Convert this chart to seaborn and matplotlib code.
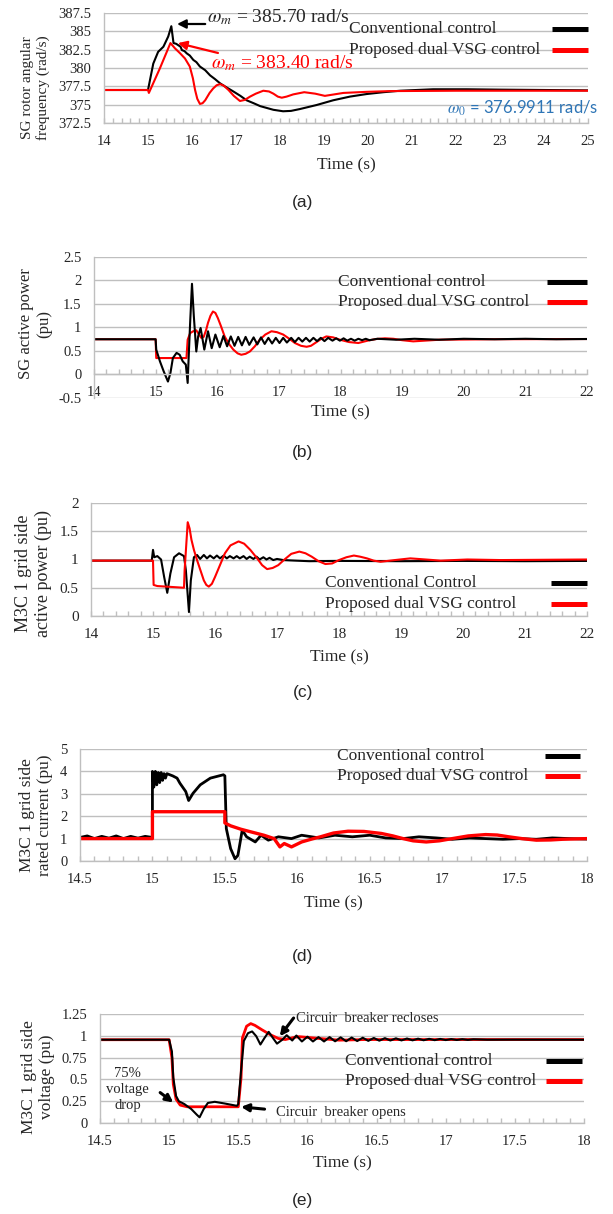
"""Respuesta dinámica ante falla: control convencional vs. control VSG dual propuesto.

Cinco paneles apilados (a)-(e) con estilo de gráfico de Excel.
"""

import matplotlib

matplotlib.use("Agg")
import matplotlib.pyplot as plt
from matplotlib.ticker import MultipleLocator, FuncFormatter
import seaborn as sns

# ---------------------------------------------------------------- datos
# (a) velocidad angular del rotor del SG (rad/s)
A_CONV_T = [14.0, 15.0, 15.12, 15.23, 15.35, 15.46, 15.53, 15.58, 15.64, 15.69,
            15.74, 15.77, 15.83, 15.88, 15.95, 16.03, 16.1, 16.18, 16.3, 16.41,
            16.52, 16.64, 16.8, 16.94, 17.1, 17.24, 17.4, 17.55, 17.7, 17.85,
            18.07, 18.25, 18.45, 18.83, 19.21, 19.59, 19.97, 20.35, 20.73, 21.1,
            21.48, 22.24, 23.0, 24.0, 25.0]
A_CONV = [377.0, 377.0, 380.6, 382.2, 382.9, 384.3, 385.7, 383.4, 383.3, 383.1,
          382.9, 382.45, 382.3, 382.0, 381.7, 381.1, 380.8, 380.2, 379.7, 379.0,
          378.5, 377.9, 377.3, 376.8, 376.2, 375.6, 375.2, 374.8, 374.55, 374.3,
          374.1, 374.15, 374.4, 374.95, 375.6, 376.1, 376.45, 376.7, 376.9, 377.0,
          377.1, 377.1, 377.05, 377.0, 376.95]
A_PROP_T = [14.0, 15.0, 15.02, 15.27, 15.51, 15.61, 15.73, 15.84, 15.95, 16.02,
            16.07, 16.12, 16.18, 16.24, 16.3, 16.4, 16.48, 16.56, 16.64, 16.72,
            16.83, 16.95, 17.09, 17.2, 17.32, 17.45, 17.62, 17.75, 17.85, 17.95,
            18.04, 18.15, 18.3, 18.55, 18.8, 19.02, 19.44, 19.97, 20.5, 22.0,
            25.0]
A_PROP = [377.0, 377.0, 376.6, 379.95, 383.4, 382.7, 382.0, 381.3, 380.2, 378.6,
          377.0, 375.8, 375.1, 375.2, 375.6, 376.6, 377.2, 377.65, 377.8, 377.6,
          377.0, 376.2, 375.5, 375.65, 376.1, 376.5, 376.9, 376.8, 376.5, 376.1,
          375.95, 376.1, 376.4, 376.7, 376.5, 376.2, 376.6, 376.75, 376.85, 376.9,
          376.9]

# (b) potencia activa del SG (pu)
B_CONV_T = [14.0, 15.0, 15.01, 15.07, 15.13, 15.2, 15.24, 15.28, 15.34, 15.39,
            15.44, 15.49, 15.52, 15.53, 15.56, 15.59, 15.62, 15.66, 15.69, 15.73,
            15.79, 15.85, 15.91, 15.97, 16.04, 16.1, 16.16, 16.22, 16.28, 16.34,
            16.4, 16.46, 16.52, 16.59, 16.65, 16.71, 16.77, 16.83, 16.89, 16.95,
            17.01, 17.07, 17.13, 17.2, 17.26, 17.32, 17.38, 17.44, 17.5, 17.56,
            17.62, 17.68, 17.74, 17.8, 17.87, 17.93, 17.99, 18.05, 18.11, 18.17,
            18.23, 18.29, 18.35, 18.41, 18.47, 18.6, 18.9, 19.2, 19.6, 20.0,
            20.5, 21.0, 21.5, 22.0]
B_CONV = [0.75, 0.75, 0.53, 0.28, 0.07, -0.15, 0.03, 0.35, 0.46, 0.42,
          0.28, 0.21, -0.18, 0.17, 1.1, 1.93, 1.24, 0.49, 0.81, 0.99,
          0.53, 0.92, 0.56, 0.85, 0.58, 0.82, 0.6, 0.81, 0.61, 0.8,
          0.62, 0.8, 0.63, 0.79, 0.64, 0.79, 0.65, 0.78, 0.66, 0.78,
          0.67, 0.78, 0.68, 0.78, 0.69, 0.78, 0.7, 0.78, 0.7, 0.78,
          0.71, 0.78, 0.71, 0.78, 0.72, 0.77, 0.72, 0.77, 0.72, 0.76,
          0.72, 0.76, 0.73, 0.76, 0.73, 0.76, 0.74, 0.76, 0.74, 0.76,
          0.75, 0.76, 0.75, 0.755]
B_PROP_T = [14.0, 15.0, 15.01, 15.28, 15.5, 15.52, 15.56, 15.61, 15.66, 15.74,
            15.78, 15.82, 15.85, 15.89, 15.93, 15.97, 16.01, 16.06, 16.12, 16.19,
            16.26, 16.33, 16.39, 16.46, 16.53, 16.61, 16.69, 16.78, 16.88, 16.97,
            17.07, 17.17, 17.26, 17.36, 17.45, 17.52, 17.6, 17.69, 17.77, 17.88,
            17.99, 18.14, 18.29, 18.44, 18.58, 18.72, 18.86, 19.0, 19.18, 19.61,
            20.5, 22.0]
B_PROP = [0.75, 0.75, 0.35, 0.35, 0.35, 0.74, 0.88, 0.92, 0.94, 0.78,
          0.8, 0.95, 1.1, 1.25, 1.34, 1.31, 1.2, 1.03, 0.81, 0.65,
          0.53, 0.45, 0.42, 0.44, 0.49, 0.6, 0.74, 0.85, 0.92, 0.9,
          0.85, 0.76, 0.67, 0.61, 0.59, 0.61, 0.68, 0.76, 0.81, 0.79,
          0.74, 0.69, 0.67, 0.72, 0.755, 0.77, 0.76, 0.73, 0.705, 0.74,
          0.75, 0.755]

# (c) potencia activa lado red del M3C 1 (pu)
C_CONV_T = [14.0, 14.98, 15.0, 15.02, 15.07, 15.13, 15.18, 15.23, 15.28, 15.34,
            15.42, 15.5, 15.53, 15.58, 15.61, 15.66, 15.71, 15.76, 15.82, 15.87,
            15.92, 15.98, 16.03, 16.08, 16.14, 16.19, 16.24, 16.3, 16.35, 16.4,
            16.46, 16.51, 16.56, 16.62, 16.67, 16.72, 16.78, 16.83, 16.88, 16.94,
            17.0, 17.1, 17.3, 17.52, 18.0, 19.0, 20.0, 21.0, 22.0]
C_CONV = [0.98, 0.98, 1.17, 1.04, 1.06, 1.0, 0.69, 0.41, 0.75, 1.04,
          1.11, 1.06, 0.81, 0.07, 0.63, 1.04, 1.08, 1.01, 1.08, 1.02,
          1.07, 1.02, 1.07, 1.02, 1.07, 1.02, 1.06, 1.02, 1.06, 1.02,
          1.06, 1.01, 1.05, 1.01, 1.05, 1.0, 1.04, 1.0, 1.03, 0.99,
          1.01, 0.99, 0.98, 0.97, 0.975, 0.97, 0.975, 0.97, 0.975]
C_PROP_T = [14.0, 15.0, 15.01, 15.07, 15.5, 15.51, 15.56, 15.59, 15.62, 15.66,
            15.71, 15.82, 15.86, 15.9, 15.95, 16.0, 16.08, 16.16, 16.25, 16.38,
            16.47, 16.57, 16.68, 16.76, 16.84, 16.93, 17.02, 17.11, 17.23, 17.36,
            17.46, 17.56, 17.67, 17.78, 17.89, 18.0, 18.12, 18.24, 18.34, 18.45,
            18.56, 18.67, 18.9, 19.15, 19.4, 19.64, 20.07, 20.61, 22.0]
C_PROP = [0.98, 0.98, 0.55, 0.53, 0.5, 0.81, 1.66, 1.55, 1.35, 1.17,
          0.99, 0.63, 0.55, 0.52, 0.57, 0.69, 0.9, 1.11, 1.25, 1.32,
          1.28, 1.17, 1.02, 0.9, 0.83, 0.85, 0.9, 0.99, 1.1, 1.14,
          1.11, 1.05, 0.97, 0.92, 0.93, 0.99, 1.04, 1.07, 1.05, 1.02,
          0.98, 0.96, 0.99, 1.02, 1.0, 0.98, 1.0, 0.99, 1.0]

# (d) corriente nominal lado red del M3C 1 (pu)
D_CONV_T = [14.5, 14.55, 14.6, 14.65, 14.7, 14.75, 14.8, 14.85, 14.9, 14.95,
            15.0, 15.0, 15.01, 15.02, 15.03, 15.04, 15.05, 15.06, 15.07, 15.08,
            15.09, 15.1, 15.14, 15.17, 15.19, 15.23, 15.25, 15.28, 15.33, 15.4,
            15.49, 15.5, 15.51, 15.54, 15.57, 15.59, 15.62, 15.65, 15.71, 15.75,
            15.8, 15.87, 15.96, 16.03, 16.15, 16.26, 16.38, 16.5, 16.61, 16.73,
            16.84, 16.96, 17.07, 17.19, 17.3, 17.42, 17.53, 17.65, 17.76, 17.88,
            18.0]
D_CONV = [1.05, 1.12, 1.0, 1.1, 1.02, 1.12, 1.0, 1.1, 1.02, 1.1,
          1.05, 4.0, 3.3, 4.0, 3.4, 3.95, 3.5, 3.95, 3.6, 3.9,
          3.7, 3.9, 3.8, 3.7, 3.47, 3.1, 2.7, 3.02, 3.4, 3.7,
          3.85, 3.8, 1.45, 0.55, 0.1, 0.25, 1.38, 1.08, 0.85, 1.15,
          0.93, 1.08, 1.0, 1.15, 1.03, 1.15, 1.08, 1.15, 1.03, 1.0,
          1.08, 1.03, 0.97, 1.03, 1.0, 0.97, 1.0, 0.97, 1.03, 1.0,
          0.98]
D_PROP_T = [14.5, 15.0, 15.0, 15.5, 15.5, 15.54, 15.61, 15.68, 15.77, 15.84,
            15.88, 15.91, 15.96, 16.03, 16.1, 16.16, 16.25, 16.35, 16.46, 16.58,
            16.66, 16.73, 16.8, 16.89, 16.98, 17.07, 17.18, 17.3, 17.38, 17.46,
            17.55, 17.65, 17.75, 17.83, 18.0]
D_PROP = [1.0, 1.0, 2.2, 2.2, 1.7, 1.57, 1.42, 1.3, 1.15, 1.0,
          0.63, 0.78, 0.63, 0.85, 0.98, 1.08, 1.25, 1.33, 1.32, 1.23,
          1.12, 1.0, 0.9, 0.85, 0.9, 1.0, 1.12, 1.18, 1.16, 1.08,
          1.0, 0.93, 0.94, 0.97, 1.0]

# (e) tensión lado red del M3C 1 (pu)
E_CONV_T = [14.5, 15.0, 15.02, 15.03, 15.05, 15.07, 15.11, 15.16, 15.2, 15.22,
            15.25, 15.28, 15.33, 15.4, 15.49, 15.5, 15.52, 15.54, 15.57, 15.6,
            15.63, 15.66, 15.69, 15.72, 15.75, 15.78, 15.82, 15.85, 15.89, 15.92,
            15.96, 16.0, 16.04, 16.08, 16.12, 16.16, 16.2, 16.24, 16.28, 16.32,
            16.36, 16.4, 16.44, 16.48, 16.52, 16.56, 16.6, 16.64, 16.68, 16.72,
            16.76, 16.8, 16.84, 16.88, 16.92, 16.96, 17.0, 17.04, 17.08, 17.12,
            17.16, 17.2, 17.3, 17.5, 18.0]
E_CONV = [0.955, 0.955, 0.82, 0.52, 0.31, 0.25, 0.217, 0.16, 0.095, 0.065,
          0.16, 0.23, 0.243, 0.224, 0.197, 0.217, 0.6, 0.94, 1.03, 1.05,
          0.995, 0.9, 0.976, 1.045, 0.976, 0.91, 0.957, 1.007, 0.946, 1.003,
          0.935, 0.99, 0.935, 0.985, 0.935, 0.985, 0.937, 0.982, 0.938, 0.98,
          0.94, 0.978, 0.942, 0.975, 0.944, 0.973, 0.946, 0.971, 0.947, 0.969,
          0.948, 0.967, 0.949, 0.965, 0.95, 0.964, 0.951, 0.962, 0.952, 0.961,
          0.953, 0.96, 0.955, 0.956, 0.955]
E_PROP_T = [14.5, 15.0, 15.02, 15.03, 15.05, 15.08, 15.13, 15.5, 15.52, 15.53,
            15.56, 15.59, 15.62, 15.67, 15.73, 15.79, 15.84, 15.91, 15.94, 16.08,
            16.23, 16.42, 18.0]
E_PROP = [0.955, 0.955, 0.75, 0.445, 0.273, 0.205, 0.186, 0.186, 0.52, 0.976,
          1.11, 1.14, 1.12, 1.07, 1.014, 0.969, 0.957, 0.984, 0.99, 0.97,
          0.95, 0.957, 0.957]

LABEL_CONV = "Conventional control"
LABEL_CONV_C = "Conventional Control"
LABEL_PROP = "Proposed dual VSG control"

# ---------------------------------------------------------------- estilo
sns.set_style("white")
plt.rcParams["font.family"] = ["Liberation Serif", "DejaVu Serif"]
plt.rcParams["mathtext.fontset"] = "stix"

W, H = 613, 1214
BLACK, RED, GRID, BLUE = "#000000", "#FF0000", "#BFBFBF", "#2E75B6"


def add_axes_px(fig, left, top, right, bottom):
    return fig.add_axes([left / W, 1 - bottom / H, (right - left) / W, (bottom - top) / H])


def draw_series(ax, t, v, color, lw=1.5):
    sns.lineplot(x=t, y=v, ax=ax, color=color, linewidth=lw,
                 estimator=None, sort=False, legend=False)


def excel_fmt(v, pos):
    return f"{round(v, 4) + 0.0:g}"


def style_axes(ax, xlim, xmaj, xmin, ylim, ystep, ylabel, ylab_xy, ylab_size,
               xlab_y, tick_size=10.5):
    ax.set_xlim(*xlim)
    ax.set_ylim(*ylim)
    ax.xaxis.set_major_locator(MultipleLocator(xmaj))
    ax.xaxis.set_minor_locator(MultipleLocator(xmin))
    ax.yaxis.set_major_locator(MultipleLocator(ystep))
    ax.xaxis.set_major_formatter(FuncFormatter(excel_fmt))
    ax.yaxis.set_major_formatter(FuncFormatter(excel_fmt))

    ax.grid(False)
    ax.yaxis.grid(True, color=GRID, lw=1.0)
    ax.set_axisbelow(True)
    for s in ["top", "right"]:
        ax.spines[s].set_visible(False)
    for s in ["left", "bottom"]:
        ax.spines[s].set_color(GRID)
        ax.spines[s].set_linewidth(1.0)

    ax.tick_params(axis="x", which="both", direction="in", bottom=True,
                   length=3.5, width=1.0, color=GRID, pad=8.5, labelsize=tick_size)
    ax.tick_params(axis="y", length=0, pad=9, labelsize=tick_size)

    ax.set_ylabel(ylabel, fontsize=ylab_size, linespacing=1.2)
    ax.yaxis.set_label_coords(*ylab_xy)
    ax.set_xlabel("Time (s)", fontsize=12.5)
    ax.xaxis.set_label_coords(0.5, xlab_y)


def excel_legend(ax, labels, x_text, x_line, ys):
    """Leyenda tipo Excel: texto a la izquierda, muestra de línea a la derecha."""
    for (label, color), y in zip(labels, ys):
        ax.text(x_text, y, label, transform=ax.transAxes, ha="left", va="center",
                fontsize=12.5)
        ax.plot(x_line, [y, y], transform=ax.transAxes, color=color, lw=3.6,
                solid_capstyle="butt", clip_on=False)


def arrow(ax, head, tail, color=BLACK, lw=1.6, size=13):
    ax.annotate("", xy=head, xytext=tail,
                arrowprops=dict(arrowstyle="-|>", color=color, lw=lw,
                                mutation_scale=size, shrinkA=0, shrinkB=0))


fig = plt.figure(figsize=(W / 100, H / 100), dpi=100)

# ---- (a)
ax = add_axes_px(fig, 104, 13, 588, 123)
draw_series(ax, A_CONV_T, A_CONV, BLACK)
draw_series(ax, A_PROP_T, A_PROP, RED)
style_axes(ax, (14, 25), 1, 0.2, (372.5, 387.5), 2.5,
           "SG rotor angular\nfrequency (rad/s)", (-0.112, 0.32), 11, -0.31)
excel_legend(ax, [(LABEL_CONV, BLACK), (LABEL_PROP, RED)], 0.506,
             [0.926, 1.0], [0.855, 0.664])
ax.text(16.34, 387.0, r"$\omega_m$ = 385.70 rad/s", fontsize=14, va="center")
arrow(ax, (15.66, 386.0), (16.3, 386.0))
ax.text(16.43, 380.7, r"$\omega_m$ = 383.40 rad/s", fontsize=14, va="center", color=RED)
arrow(ax, (15.68, 383.4), (16.59, 382.05), color=RED)
ax.text(25.23, 374.5, r"$\omega_0$ = 376.9911 rad/s", fontsize=12, va="center",
        ha="right", color=BLUE, family=["Lato", "DejaVu Sans"])

# ---- (b)
ax = add_axes_px(fig, 94, 257, 587, 398)
draw_series(ax, B_PROP_T, B_PROP, RED)
draw_series(ax, B_CONV_T, B_CONV, BLACK)
style_axes(ax, (14, 22), 1, 0.2, (-0.5, 2.5), 0.5,
           "SG active power\n(pu)", (-0.085, 0.525), 12, -0.043)
ax.spines["bottom"].set_position(("data", 0))
excel_legend(ax, [(LABEL_CONV, BLACK), (LABEL_PROP, RED)], 0.494,
             [0.918, 1.0], [0.825, 0.683])

# ---- (c)
ax = add_axes_px(fig, 91, 503, 587, 616)
draw_series(ax, C_CONV_T, C_CONV, BLACK)
draw_series(ax, C_PROP_T, C_PROP, RED)
style_axes(ax, (14, 22), 1, 0.2, (0, 2), 0.5,
           "M3C 1 grid side\nactive power (pu)", (-0.079, 0.38), 13, -0.292,
           tick_size=11)
excel_legend(ax, [(LABEL_CONV_C, BLACK), (LABEL_PROP, RED)], 0.472,
             [0.927, 1.0], [0.289, 0.106])

# ---- (d)
ax = add_axes_px(fig, 80, 749, 587, 861)
draw_series(ax, D_CONV_T, D_CONV, BLACK, lw=2.0)
draw_series(ax, D_PROP_T, D_PROP, RED, lw=2.4)
style_axes(ax, (14.5, 18), 0.5, 0.1, (0, 5), 1,
           "M3C 1 grid side\nrated current (pu)", (-0.053, 0.41), 12.5, -0.304)
excel_legend(ax, [(LABEL_CONV, BLACK), (LABEL_PROP, RED)], 0.5075,
             [0.917, 0.986], [0.9375, 0.759])

# ---- (e)
ax = add_axes_px(fig, 100, 1014, 584, 1123)
draw_series(ax, E_PROP_T, E_PROP, RED, lw=2.0)
draw_series(ax, E_CONV_T, E_CONV, BLACK)
style_axes(ax, (14.5, 18), 0.5, 0.1, (0, 1.25), 0.25,
           "M3C 1 grid side\nvoltage (pu)", (-0.093, 0.42), 12.5, -0.294)
excel_legend(ax, [(LABEL_CONV, BLACK), (LABEL_PROP, RED)], 0.506,
             [0.921, 0.995], [0.569, 0.385])
ax.text(14.7, 0.387, "75%\nvoltage\ndrop", ha="center", va="center",
        fontsize=10.5, linespacing=1.3)
arrow(ax, (15.03, 0.235), (14.935, 0.349), lw=2.2, size=11)
ax.text(15.77, 0.121, "Circuir  breaker opens", va="center", fontsize=10.5)
arrow(ax, (15.52, 0.185), (15.69, 0.159), lw=2.2, size=11)
ax.text(15.92, 1.193, "Circuir  breaker recloses", va="center", fontsize=10.5)
arrow(ax, (15.8, 0.995), (15.9, 1.204), lw=2.2, size=11)

# ---- rótulos de subfigura
for tag, y_px in [("(a)", 203), ("(b)", 452), ("(c)", 693), ("(d)", 957), ("(e)", 1200)]:
    fig.text(0.494, 1 - y_px / H, tag, ha="center", va="center", fontsize=12.5,
             family=["Liberation Sans", "DejaVu Sans"])

fig.savefig("out.png", dpi=100)
plt.close(fig)
